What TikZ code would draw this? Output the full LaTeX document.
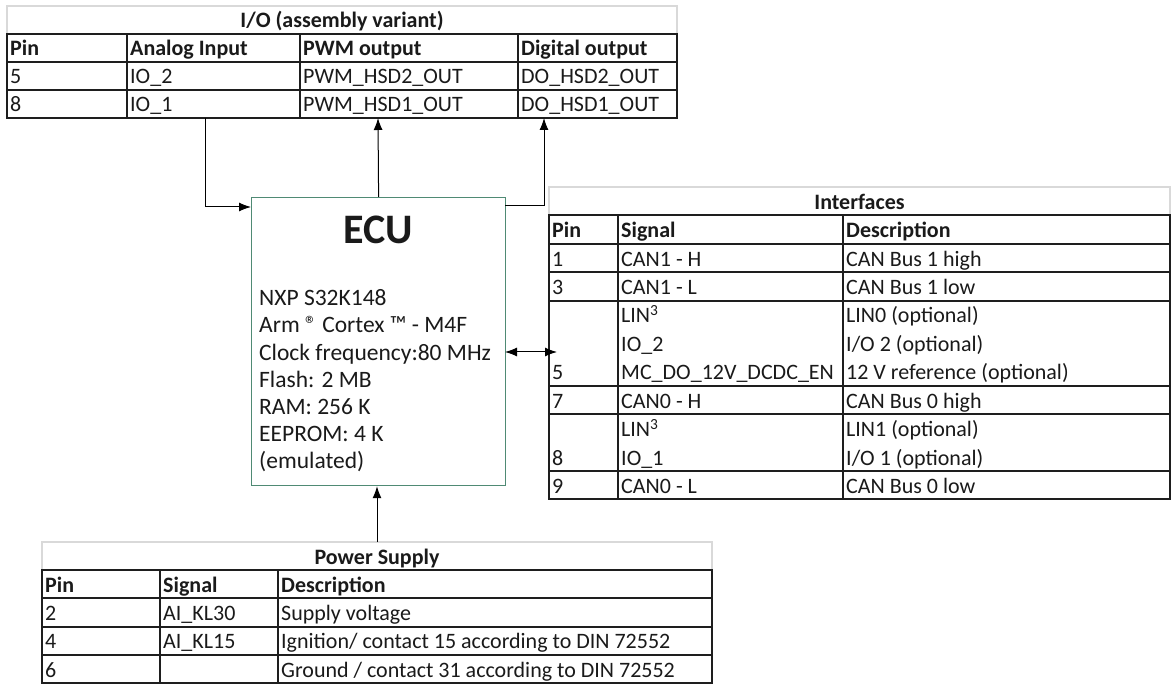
\documentclass[tikz,border=0pt]{standalone}
\usepackage{fontspec}
\setmainfont{Carlito}
\usetikzlibrary{arrows.meta}
\definecolor{tline}{HTML}{1E1E1E}
\definecolor{tgray}{HTML}{D9D9D9}
\definecolor{ecub}{HTML}{4F8A74}
\definecolor{txt}{HTML}{1A1A1A}
\tikzset{
  gridline/.style={draw=tline, line width=2pt},
  titleline/.style={draw=tgray, line width=1.6pt},
  cell/.style={anchor=base west, inner sep=0pt, font=\fontsize{22}{26}\selectfont, text=txt},
  hcell/.style={cell, font=\fontsize{22}{26}\selectfont\bfseries},
  ttl/.style={anchor=base, inner sep=0pt, font=\fontsize{22}{26}\selectfont\bfseries, text=txt},
  ecutxt/.style={anchor=base west, inner sep=0pt, font=\fontsize{23.5}{28}\selectfont, text=txt},
  conn/.style={draw=black, line width=1pt, -{Latex[length=12pt,width=9pt]}},
  dconn/.style={draw=black, line width=1pt, {Latex[length=12pt,width=9pt]}-{Latex[length=12pt,width=9pt]}},
}
\begin{document}
\begin{tikzpicture}[x=1pt,y=-1pt]
\useasboundingbox (0,0) rectangle (1172,684);
\fill[white] (0,0) rectangle (1172,684);

% ---------- I/O table ----------
\draw[titleline] (7,34) -- (7,6) -- (677,6) -- (677,34);
\draw[gridline] (7,34) rectangle (677,118);
\foreach \y in {62,90} \draw[gridline] (7,\y) -- (677,\y);
\foreach \x in {127,300,518} \draw[gridline] (\x,34) -- (\x,118);
\node[ttl] (io-title) at (342,28) {I/O (assembly variant)};
\node[hcell] (io-h1) at (10,56) {Pin};
\node[hcell] (io-h2) at (130,56) {Analog Input};
\node[hcell] (io-h3) at (303,56) {PWM output};
\node[hcell] (io-h4) at (521,56) {Digital output};
\node[cell] (io-a1) at (10,84) {5};
\node[cell] (io-a2) at (130,84) {IO\_2};
\node[cell] (io-a3) at (303,84) {PWM\_HSD2\_OUT};
\node[cell] (io-a4) at (521,84) {DO\_HSD2\_OUT};
\node[cell] (io-b1) at (10,112) {8};
\node[cell] (io-b2) at (130,112) {IO\_1};
\node[cell] (io-b3) at (303,112) {PWM\_HSD1\_OUT};
\node[cell] (io-b4) at (521,112) {DO\_HSD1\_OUT};
\coordinate (io-ain) at (205,118);
\coordinate (io-pwm) at (378,118);
\coordinate (io-do) at (544,118);

% ---------- ECU ----------
\node[draw=ecub, line width=1.2pt, minimum width=254, minimum height=288, anchor=north west, inner sep=0pt] (ecu) at (251,197) {};
\node[anchor=base, inner sep=0pt, font=\fontsize{42}{48}\selectfont\bfseries, text=txt] (ecu-title) at (378,244) {ECU};
\node[ecutxt] (ecu-l1) at (259,306) {NXP S32K148};
\node[ecutxt] (ecu-l2) at (259,333) {Arm ® Cortex ™ - M4F};
\node[ecutxt] (ecu-l3) at (259,360) {Clock frequency:80 MHz};
\node[ecutxt] (ecu-l4) at (259,387) {Flash: 2 MB};
\node[ecutxt] (ecu-l5) at (259,414) {RAM: 256 K};
\node[ecutxt] (ecu-l6) at (259,441) {EEPROM: 4 K};
\node[ecutxt] (ecu-l7) at (259,468) {(emulated)};
\coordinate (ecu-in) at (251,207);
\coordinate (ecu-out) at (505,205.5);
\coordinate (ecu-if) at (505,352);

% ---------- Interfaces table ----------
\draw[titleline] (549,215.4) -- (549,187) -- (1170,187) -- (1170,215.4);
\draw[gridline] (549,215.4) rectangle (1170,499.4);
\foreach \y in {243.8,272.2,300.6,385.8,414.2,471} \draw[gridline] (549,\y) -- (1170,\y);
\foreach \x in {618,843} \draw[gridline] (\x,215.4) -- (\x,499.4);
\node[ttl] (if-title) at (859.5,209.5) {Interfaces};
\node[hcell] (if-h1) at (552,237.8) {Pin};
\node[hcell] (if-h2) at (621,237.8) {Signal};
\node[hcell] (if-h3) at (846,237.8) {Description};
\node[cell] (if-r1a) at (552,266.2) {1};
\node[cell] (if-r1b) at (621,266.2) {CAN1 - H};
\node[cell] (if-r1c) at (846,266.2) {CAN Bus 1 high};
\node[cell] (if-r3a) at (552,294.6) {3};
\node[cell] (if-r3b) at (621,294.6) {CAN1 - L};
\node[cell] (if-r3c) at (846,294.6) {CAN Bus 1 low};
\node[cell] (if-r5b1) at (621,323) {LIN\textsuperscript{3}};
\node[cell] (if-r5c1) at (846,323) {LIN0 (optional)};
\node[cell] (if-r5b2) at (621,351.4) {IO\_2};
\node[cell] (if-r5c2) at (846,351.4) {I/O 2 (optional)};
\node[cell] (if-r5a) at (552,379.8) {5};
\node[cell] (if-r5b3) at (621,379.8) {MC\_DO\_12V\_DCDC\_EN};
\node[cell] (if-r5c3) at (846,379.8) {12 V reference (optional)};
\node[cell] (if-r7a) at (552,408.2) {7};
\node[cell] (if-r7b) at (621,408.2) {CAN0 - H};
\node[cell] (if-r7c) at (846,408.2) {CAN Bus 0 high};
\node[cell] (if-r8b1) at (621,436.6) {LIN\textsuperscript{3}};
\node[cell] (if-r8c1) at (846,436.6) {LIN1 (optional)};
\node[cell] (if-r8a) at (552,465) {8};
\node[cell] (if-r8b2) at (621,465) {IO\_1};
\node[cell] (if-r8c2) at (846,465) {I/O 1 (optional)};
\node[cell] (if-r9a) at (552,493.4) {9};
\node[cell] (if-r9b) at (621,493.4) {CAN0 - L};
\node[cell] (if-r9c) at (846,493.4) {CAN Bus 0 low};
\coordinate (if-in) at (557,352);

% ---------- Power Supply table ----------
\draw[titleline] (42,570.2) -- (42,542) -- (712,542) -- (712,570.2);
\draw[gridline] (42,570.2) rectangle (712,683);
\foreach \y in {598.4,626.6,654.8} \draw[gridline] (42,\y) -- (712,\y);
\foreach \x in {160,278} \draw[gridline] (\x,570.2) -- (\x,683);
\node[ttl] (ps-title) at (377,564.2) {Power Supply};
\node[hcell] (ps-h1) at (45,592.4) {Pin};
\node[hcell] (ps-h2) at (163,592.4) {Signal};
\node[hcell] (ps-h3) at (281,592.4) {Description};
\node[cell] (ps-r2a) at (45,620.6) {2};
\node[cell] (ps-r2b) at (163,620.6) {AI\_KL30};
\node[cell] (ps-r2c) at (281,620.6) {Supply voltage};
\node[cell] (ps-r4a) at (45,648.8) {4};
\node[cell] (ps-r4b) at (163,648.8) {AI\_KL15};
\node[cell] (ps-r4c) at (281,648.8) {Ignition/ contact 15 according to DIN 72552};
\node[cell] (ps-r6a) at (45,677) {6};
\node[cell] (ps-r6c) at (281,677) {Ground / contact 31 according to DIN 72552};
\coordinate (ps-top) at (377,542);

% ---------- connectors ----------
\draw[conn] (io-ain) |- (ecu-in);
\draw[conn] (ecu.north) -- (io-pwm);
\draw[conn] (ecu-out) -| (io-do);
\draw[dconn] (ecu-if) -- (if-in);
\draw[conn] (ps-top) -- (ps-top |- ecu.south);
\end{tikzpicture}
\end{document}
